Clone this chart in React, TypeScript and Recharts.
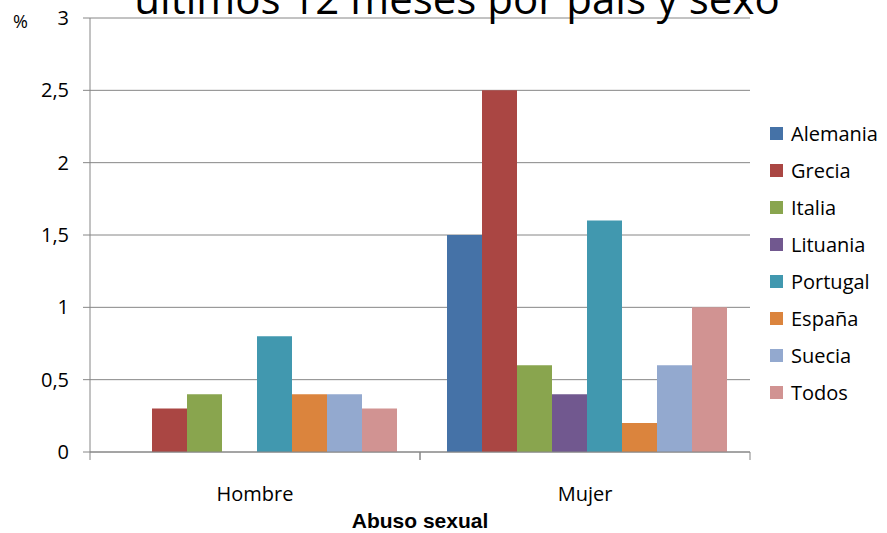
import { Bar, BarChart, CartesianGrid, Legend, XAxis, YAxis } from 'recharts';

// categorias y valores (%)
const sexos = ['Hombre', 'Mujer'];
const paises = ['Alemania', 'Grecia', 'Italia', 'Lituania', 'Portugal', 'España', 'Suecia', 'Todos'];
const colores = ['#4572A7', '#AA4643', '#89A54E', '#71588F', '#4198AF', '#DB843D', '#93A9CF', '#D19392'];
const hombre = [0, 0.3, 0.4, 0, 0.8, 0.4, 0.4, 0.3];
const mujer = [1.5, 2.5, 0.6, 0.4, 1.6, 0.2, 0.6, 1.0];
const yTicks = [0, 0.5, 1, 1.5, 2, 2.5, 3];

const data = sexos.map((sexo, i) => {
  const row: Record<string, string | number> = { sexo };
  const vals = i === 0 ? hombre : mujer;
  paises.forEach((p, j) => (row[p] = vals[j]));
  return row;
});

const font = "'Open Sans', 'Noto Sans', sans-serif";

// etiqueta del eje x + marcas en los limites de cada categoria
const CatTick = ({ x, y, payload }: any) => {
  const off = payload.offset ?? 0;
  return (
    <g>
      <line x1={x - off} x2={x - off} y1={y} y2={y + 8} stroke='#868686' />
      <line x1={x + off} x2={x + off} y1={y} y2={y + 8} stroke='#868686' />
      <text x={x} y={y + 49} textAnchor='middle' fontSize={20} fontFamily={font} fill='#000'>
        {payload.value}
      </text>
    </g>
  );
};

// leyenda en el orden de la serie (recharts la ordena por nombre si no)
const LegendList = () => (
  <div style={{ fontFamily: font, fontSize: 20, color: '#000' }}>
    {paises.map((p, i) => (
      <div key={p} style={{ display: 'flex', alignItems: 'center', height: 37 }}>
        <span style={{ width: 13, height: 13, background: colores[i], marginRight: 8, display: 'inline-block' }} />
        {p}
      </div>
    ))}
  </div>
);

export default function App() {
  return (
    <div style={{ position: 'absolute', left: 0, top: 0, width: 887, height: 533, background: '#fff' }}>
      <BarChart
        width={887}
        height={533}
        data={data}
        margin={{ top: 18, right: 20, bottom: 0, left: 0 }}
        barCategoryGap={27}
        barGap={0}
      >
        <CartesianGrid vertical={false} stroke='#868686' />
        <XAxis
          dataKey='sexo'
          height={81}
          stroke='#868686'
          tickLine={false}
          tickSize={0}
          tickMargin={0}
          tick={<CatTick />}
          interval={0}
          label={{ value: 'Abuso sexual', position: 'insideBottom', offset: 5, fill: '#000', fontSize: 21, fontWeight: 'bold', fontFamily: "'Liberation Sans', Arial, sans-serif" }}
        />
        <YAxis
          width={90}
          domain={[0, 3]}
          ticks={yTicks}
          interval={0}
          stroke='#868686'
          tickSize={7}
          tickMargin={14}
          tick={{ fill: '#000', fontSize: 20, fontFamily: font }}
          tickFormatter={(v: number) => String(v).replace('.', ',')}
        />
        <Legend
          layout='vertical'
          align='right'
          verticalAlign='top'
          content={<LegendList />}
          wrapperStyle={{ left: 770, top: 115, width: 117 }}
        />
        {paises.map((p, i) => (
          <Bar key={p} dataKey={p} fill={colores[i]} isAnimationActive={false} />
        ))}
      </BarChart>
      <svg width={887} height={60} style={{ position: 'absolute', left: 0, top: 0, pointerEvents: 'none' }}>
        <text x={457} y={14} textAnchor='middle' fontSize={42} fontFamily={font} fill='#000'>
          últimos 12 meses por país y sexo
        </text>
        <text x={13} y={28} fontSize={18} fontFamily={font} fill='#000'>%</text>
      </svg>
    </div>
  );
}
